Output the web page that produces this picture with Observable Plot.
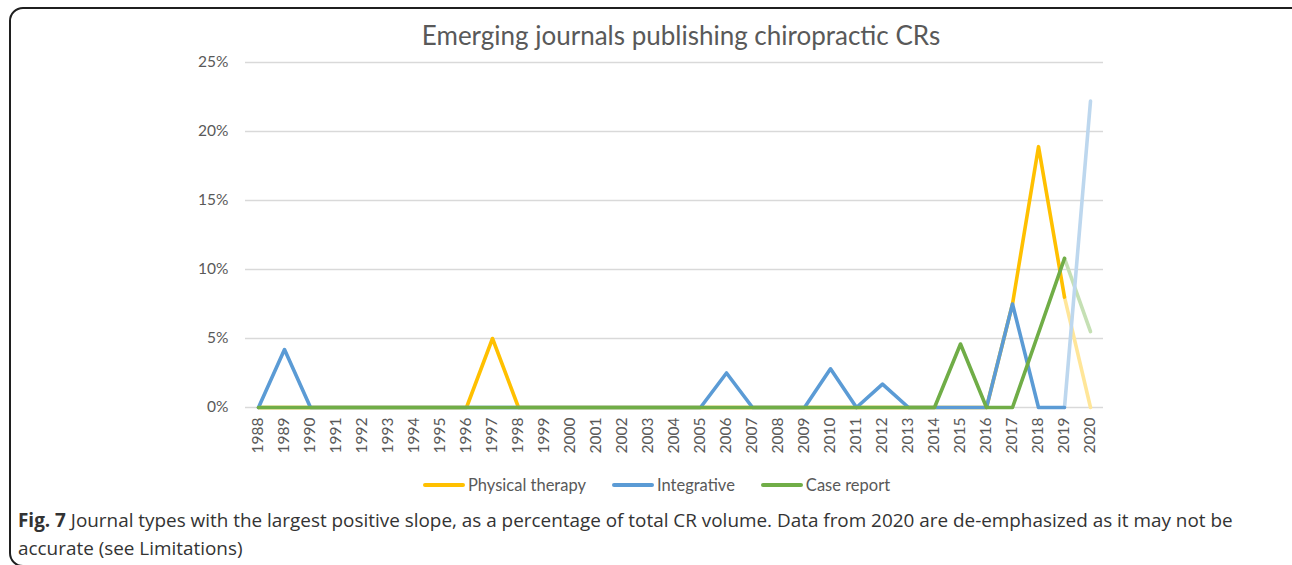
<!DOCTYPE html>
<html>
<head>
<meta charset="utf-8">
<script src="https://cdn.jsdelivr.net/npm/d3@7"></script>
<script src="https://cdn.jsdelivr.net/npm/@observablehq/plot@0.6"></script>
<style>
  html, body { margin:0; padding:0; width:1292px; height:565px; overflow:hidden; background:#fff; }
  #frame { position:absolute; left:9px; top:7px; width:1310px; height:556px; border:2px solid #1f1f1f; border-radius:14px; }
  #title { position:absolute; top:19px; left:681px; transform:translateX(-50%); white-space:nowrap;
           font-family:Lato, sans-serif; font-size:26px; color:#595959; }
  #chart { position:absolute; left:0; top:0; }
  #legend { position:absolute; top:475px; left:423px; display:flex; align-items:center;
            font-family:Lato, sans-serif; font-size:16.5px; color:#595959; white-space:nowrap; }
  .item { display:flex; align-items:center; margin-right:26px; }
  .sw { width:42px; height:4px; border-radius:2px; margin-right:3px; }
  #caption { position:absolute; left:18px; top:506px; font-family:"Open Sans", sans-serif; font-size:18.9px;
             line-height:28px; color:#333; white-space:nowrap; }
</style>
</head>
<body>
<div id="frame"></div>
<div id="title">Emerging journals publishing chiropractic CRs</div>
<div id="chart"></div>
<div id="legend"></div>
<div id="caption"><b>Fig. 7</b> Journal types with the largest positive slope, as a percentage of total CR volume. Data from 2020 are de-emphasized as it may not be<br>accurate (see Limitations)</div>
<script>
const years = d3.range(1988, 2021);
// percent of total CR volume, 1988..2020
const physicalTherapy = [0,0,0,0,0,0,0,0,0,5.0,0,0,0,0,0,0,0,0,0,0,0,0,0,0,0,0,0,0,0,7.5,18.9,8.0,0];
const integrative     = [0,4.2,0,0,0,0,0,0,0,0,0,0,0,0,0,0,0,0,2.5,0,0,0,2.8,0,1.7,0,0,0,0,7.5,0,0,22.2];
const caseReport      = [0,0,0,0,0,0,0,0,0,0,0,0,0,0,0,0,0,0,0,0,0,0,0,0,0,0,0,4.6,0,0,5.4,10.8,5.5];
const seriesNames = ["Physical therapy", "Integrative", "Case report"];
const seriesColors = ["#FFC000", "#5B9BD5", "#70AD47"];
const fadedColors = ["#FFE699", "#BDD7EE", "#C5E0B4"];
const yTicks = [0, 5, 10, 15, 20, 25];
const lastYear = 2020;

const allSeries = [physicalTherapy, integrative, caseReport];
const tables = allSeries.map(vals => years.map((y, i) => ({year: y, v: vals[i]})));

const marks = [
  Plot.ruleY(yTicks, {stroke:"#d9d9d9", strokeWidth:1.3}),
  Plot.axisY({ticks: yTicks, tickSize:0, tickPadding:17, tickFormat: d => d + "%", label:null, fontSize:15.5}),
  Plot.axisX({tickRotate:-90, tickSize:0, tickPadding:10, tickFormat: d => String(d), label:null, fontSize:15.5})
];
// de-emphasized final segment
[0, 2, 1].forEach(k => {
  marks.push(Plot.line(tables[k].filter(d => d.year >= lastYear - 1), {x:"year", y:"v", stroke: fadedColors[k], strokeWidth:3.6, strokeLinejoin:"round", strokeLinecap:"round"}));
});
tables.forEach((t, k) => {
  marks.push(Plot.line(t.filter(d => d.year < lastYear), {x:"year", y:"v", stroke: seriesColors[k], strokeWidth:3.6, strokeLinejoin:"round", strokeLinecap:"round"}));
});

const chart = Plot.plot({
  width:1292, height:470,
  marginLeft:245, marginRight:189, marginTop:62, marginBottom:63,
  style:{fontFamily:"Lato, sans-serif", fontSize:"15.5px", color:"#595959", background:"transparent", overflow:"visible"},
  x:{type:"point", domain: years, padding:0.5},
  y:{domain:[0, 25]},
  marks
});
document.getElementById("chart").appendChild(chart);

const legend = document.getElementById("legend");
seriesNames.forEach((n, k) => {
  const it = document.createElement("div");
  it.className = "item";
  it.innerHTML = `<span class="sw" style="background:${seriesColors[k]}"></span><span>${n}</span>`;
  legend.appendChild(it);
});
</script>
</body>
</html>
